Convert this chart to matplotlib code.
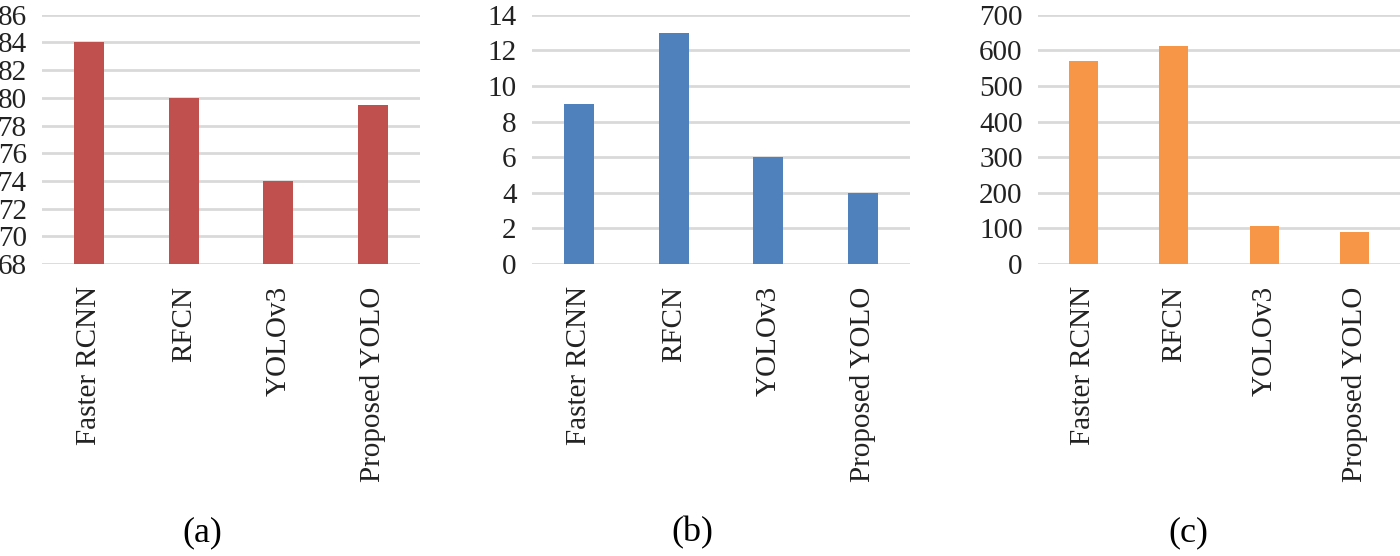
import matplotlib
matplotlib.use("Agg")
import matplotlib.pyplot as plt

plt.rcParams['font.family'] = ['Liberation Serif', 'DejaVu Serif']

methods = ['Faster RCNN', 'RFCN', 'YOLOv3', 'Proposed YOLO']
accuracy = [84, 80, 74, 79.5]
vals_b = [9, 13, 6, 4]
vals_c = [570, 612, 108, 89]

panels = [
    # values, color, ylim, step, axis left/width (px), caption x (px)
    (accuracy, '#C0504D', (68, 86), 2, 42, 378, 202),
    (vals_b, '#4F81BD', (0, 14), 2, 532, 378, 692),
    (vals_c, '#F79646', (0, 700), 100, 1038, 362, 1188),
]
captions = ['(a)', '(b)', '(c)']

W, H = 1400, 556
fig = plt.figure(figsize=(W / 100, H / 100), dpi=100)

for (vals, col, ylim, step, left, width, capx), cap in zip(panels, captions):
    ax = fig.add_axes([left / W, 1 - 264 / H, width / W, (264 - 14.7) / H])
    x = list(range(len(methods)))
    ax.bar(x, [v - ylim[0] for v in vals], width=0.32, bottom=ylim[0],
           color=col, zorder=3)
    ax.set_xlim(-0.5, len(methods) - 0.5)
    ax.set_ylim(*ylim)
    ticks = list(range(ylim[0], ylim[1] + 1, step))
    ax.set_yticks(ticks)
    ax.set_yticklabels([str(t) for t in ticks], fontsize=21)
    ax.set_xticks(x)
    ax.set_xticklabels(methods, rotation=90, fontsize=21)
    ax.tick_params(length=0, colors='#222222')
    ax.tick_params(axis='y', pad=11)
    ax.tick_params(axis='x', pad=16)
    for s in ax.spines.values():
        s.set_visible(False)
    ax.yaxis.grid(True, color='#d9d9d9', linewidth=2, zorder=0)
    ax.set_axisbelow(True)
    fig.text(capx / W, 1 - 533 / H, cap, fontsize=26, ha='center', va='center')

fig.savefig('out.png', dpi=100)
